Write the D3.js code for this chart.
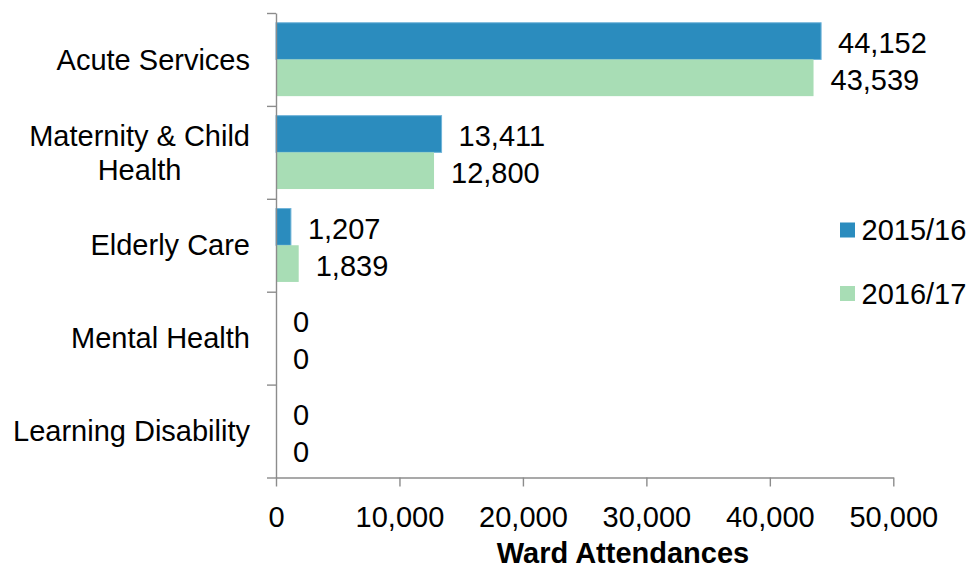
<!DOCTYPE html>
<html>
<head>
<meta charset="utf-8">
<script src="https://cdn.jsdelivr.net/npm/d3@7"></script>
<style>
  html, body { margin: 0; padding: 0; background: #ffffff; }
  svg { display: block; font-family: "Liberation Sans", Arial, sans-serif; }
</style>
</head>
<body>
<svg id="chart" width="968" height="571"></svg>
<script>
// Ward attendances by service, two financial years
const categories = ["Acute Services", "Maternity & Child Health", "Elderly Care", "Mental Health", "Learning Disability"];
const seriesNames = ["2015/16", "2016/17"];
const values201516 = [44152, 13411, 1207, 0, 0];
const values201617 = [43539, 12800, 1839, 0, 0];
const xTicks = [0, 10000, 20000, 30000, 40000, 50000];
const xTitle = "Ward Attendances";
const colors = ["#2b8cbe", "#a8ddb5"];

const seriesValues = [values201516, values201617];
const rows = categories.map((c, i) => ({
  category: c,
  bars: seriesNames.map((s, j) => ({ series: s, value: seriesValues[j][i], color: colors[j] }))
}));

const svg = d3.select("#chart");
const fontSize = 29;
const axisColor = "#8c8c8c";

const plotLeft = 276, plotRight = 893.3, plotTop = 13, plotBottom = 477.5;

const x = d3.scaleLinear().domain([0, 50000]).range([plotLeft, plotRight]);
const y = d3.scaleBand().domain(categories).range([plotTop, plotBottom]).padding(0);
const ySub = d3.scaleBand().domain(seriesNames).range([0, y.step()]).paddingInner(0).paddingOuter(0.266);
// boundaries between categories carry the vertical axis ticks
const yEdges = d3.scaleLinear().domain([0, categories.length]).range([plotTop, plotBottom]);

// bars
const groups = svg.append("g").selectAll("g")
  .data(rows).join("g")
  .attr("transform", d => `translate(0,${y(d.category)})`);

groups.selectAll("rect")
  .data(d => d.bars).join("rect")
  .attr("x", x(0))
  .attr("y", d => ySub(d.series))
  .attr("width", d => x(d.value) - x(0))
  .attr("height", ySub.bandwidth())
  .attr("fill", d => d.color)
  .attr("stroke", d => d.series === "2015/16" ? "#6fb3d8" : "none")
  .attr("stroke-width", 1);

// value labels
const fmt = d3.format(",");
groups.selectAll("text.val")
  .data(d => d.bars).join("text")
  .attr("class", "val")
  .attr("x", d => x(d.value) + 17)
  .attr("y", d => ySub(d.series) + ySub.bandwidth() / 2 + 2)
  .attr("dy", "0.35em")
  .attr("font-size", fontSize)
  .attr("fill", "#000")
  .text(d => fmt(d.value));

// x axis
const xAxis = svg.append("g")
  .attr("transform", `translate(0,${plotBottom})`)
  .call(d3.axisBottom(x).tickValues(xTicks).tickFormat(fmt).tickSizeInner(9).tickSizeOuter(0).tickPadding(20));
xAxis.select(".domain").attr("stroke", axisColor).attr("stroke-width", 1.4);
xAxis.selectAll(".tick line").attr("stroke", axisColor).attr("stroke-width", 1.4);
xAxis.selectAll(".tick text").attr("font-size", fontSize).attr("fill", "#000")
  .attr("font-family", "'Liberation Sans', Arial, sans-serif");

// y axis with ticks at the category boundaries
const yAxis = svg.append("g")
  .attr("transform", `translate(${plotLeft},0)`)
  .call(d3.axisLeft(yEdges).tickValues(d3.range(categories.length + 1)).tickFormat("").tickSizeInner(9).tickSizeOuter(0));
yAxis.select(".domain").attr("stroke", axisColor).attr("stroke-width", 1.4);
yAxis.selectAll(".tick line").attr("stroke", axisColor).attr("stroke-width", 1.4);

// category labels: wrapped, the block right-aligned and its lines centred
const labelRight = 250, maxWidth = 245, lineHeight = 34;
const catLabels = svg.append("g");
categories.forEach(cat => {
  const t = catLabels.append("text")
    .attr("font-size", fontSize)
    .attr("fill", "#000");
  const measure = s => { t.text(s); return t.node().getComputedTextLength(); };
  const words = cat.split(" ");
  const lines = [];
  let line = [];
  words.forEach(w => {
    line.push(w);
    if (measure(line.join(" ")) > maxWidth && line.length > 1) {
      line.pop();
      lines.push(line.join(" "));
      line = [w];
    }
  });
  lines.push(line.join(" "));
  const blockWidth = d3.max(lines, measure);
  t.text(null).attr("text-anchor", "middle");
  const cx = labelRight - blockWidth / 2;
  const cy = y(cat) + y.bandwidth() / 2;
  const y0 = cy - (lines.length - 1) * lineHeight / 2;
  lines.forEach((ln, i) => {
    t.append("tspan")
      .attr("x", cx)
      .attr("y", y0 + i * lineHeight)
      .attr("dy", "0.35em")
      .text(ln);
  });
});

// axis title
svg.append("text")
  .attr("x", 623)
  .attr("y", 563)
  .attr("text-anchor", "middle")
  .attr("font-size", fontSize)
  .attr("font-weight", "bold")
  .attr("fill", "#000")
  .text(xTitle);

// legend
const legend = svg.append("g").selectAll("g")
  .data(seriesNames).join("g")
  .attr("transform", (d, i) => `translate(840,${230 + i * 63.5})`);
legend.append("rect")
  .attr("x", 0).attr("y", -7.5)
  .attr("width", 15).attr("height", 15)
  .attr("fill", (d, i) => colors[i]);
legend.append("text")
  .attr("x", 21.5)
  .attr("y", 0)
  .attr("dy", "0.35em")
  .attr("font-size", fontSize)
  .attr("fill", "#000")
  .text(d => d);
</script>
</body>
</html>
